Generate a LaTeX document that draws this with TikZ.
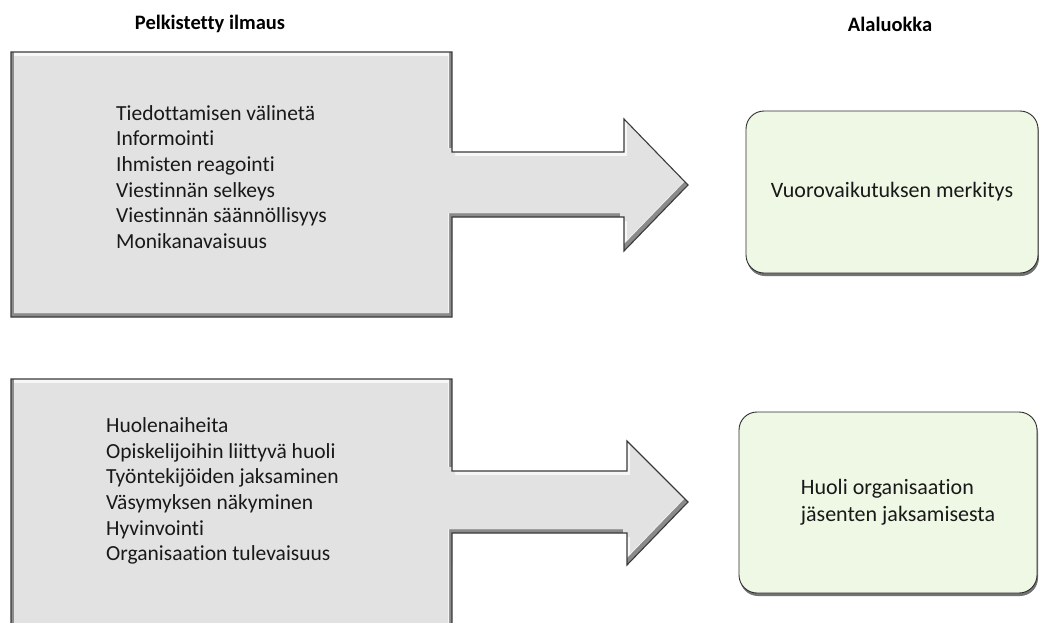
\documentclass[tikz,border=0pt]{standalone}
\usepackage{fontspec}
\setmainfont{Carlito}[Ligatures=NoCommon]
\definecolor{boxface}{HTML}{E2E2E2}
\definecolor{boxhi}{HTML}{F7F7F7}
\definecolor{boxlo}{HTML}{8A8A8A}
\definecolor{boxline}{HTML}{3A3A3A}
\definecolor{greenface}{HTML}{EEF8E4}
\definecolor{greenline}{HTML}{2E2E2E}
\tikzset{
  header/.style={font=\fontsize{20.5}{24}\selectfont\bfseries, text=black, inner sep=0pt},
  itemlist/.style={font=\fontsize{21.5}{25.6}\selectfont, align=left, anchor=west, inner sep=0pt, text=black!90},
  catbox/.style={draw=greenline, line width=0.9pt, fill=greenface, rounded corners=18pt},
  cattext/.style={font=\fontsize{22}{27}\selectfont, align=left, text=black!90, inner sep=0pt},
  catshadow/.style={fill=black!55, rounded corners=18pt, draw=none},
}
\def\arrowA{(11,52) -- (452,52) -- (452,152) -- (624,152) -- (624,119) -- (688,185) -- (624,251) -- (624,217) -- (452,217) -- (452,317) -- (11,317) -- cycle}
\def\arrowB{(11,379) -- (452,379) -- (452,471) -- (627,471) -- (627,441) -- (688,502) -- (627,565) -- (627,533) -- (452,533) -- (452,632) -- (11,632) -- cycle}
\begin{document}
\begin{tikzpicture}[x=1pt,y=-1pt]
\useasboundingbox (0,0) rectangle (1039,622);
\clip (0,0) rectangle (1039,622);
% bevelled block arrows
\foreach \shp in {\arrowA,\arrowB}{
  \begin{scope}
    \clip \shp;
    \fill[boxlo] \shp;
    \fill[boxhi, shift={(-3,-4)}] \shp;
    \fill[black!45, shift={(-3,-4)}] (0,0) rectangle (17,640);
    \begin{scope}
      \clip[shift={(3,4)}] \shp;
      \fill[boxface, shift={(-4,-4)}] \shp;
    \end{scope}
  \end{scope}
  \draw[boxline, line width=1.1pt, line join=miter] \shp;
}
% headers
\node[header] (h1) at (210,24) {Pelkistetty ilmaus};
\node[header] (h2) at (890,24) {Alaluokka};
% item lists
\node[itemlist] (l1) at (116,177) {Tiedottamisen välinetä\\Informointi\\Ihmisten reagointi\\Viestinnän selkeys\\Viestinnän säännöllisyys\\Monikanavaisuus};
\node[itemlist] (l2) at (106,491) {Huolenaiheita\\Opiskelijoihin liittyvä huoli\\Työntekijöiden jaksaminen\\Väsymyksen näkyminen\\Hyvinvointi\\Organisaation tulevaisuus};
% category boxes
\fill[catshadow] (747,114) rectangle (1039,276);
\node[catbox, minimum width=292pt, minimum height=162pt] (c1) at (892,192) {};
\node[cattext] (t1) at (c1.center) {Vuorovaikutuksen merkitys};
\fill[catshadow] (740,415) rectangle (1038,596);
\node[catbox, minimum width=298pt, minimum height=181pt] (c2) at (888,502.5) {};
\node[cattext] (t2) at ([xshift=10pt]c2.center) {Huoli organisaation\\jäsenten jaksamisesta};
\end{tikzpicture}
\end{document}
